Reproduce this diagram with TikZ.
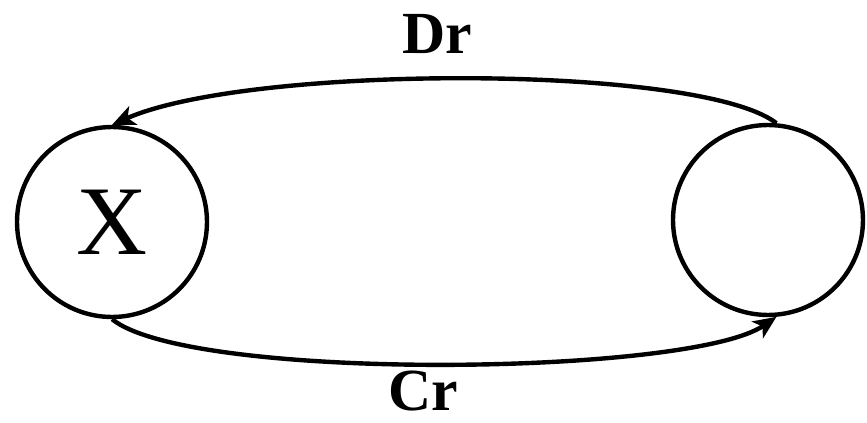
\documentclass[tikz,border=0pt]{standalone}
\usepackage{fontspec}
\setmainfont{Liberation Serif}
\usetikzlibrary{arrows.meta}
\tikzset{
  state/.style={circle, draw, line width=2.5pt, minimum size=3.8cm, inner sep=0pt},
  flow/.style={line width=2.5pt, -{Stealth[length=0.46cm, width=0.4cm, inset=0.12cm]}},
  rate/.style={font=\fontsize{34}{40}\selectfont\bfseries, inner sep=0pt, anchor=base}
}
\begin{document}
\begin{tikzpicture}[x=0.02cm, y=-0.02cm]
\useasboundingbox (0,0) rectangle (867,423);
\node[state, font=\fontsize{56}{60}\selectfont] (lnode) at (112,222) {X};
\node[state] (rnode) at (768,220) {};
\node[rate] (dr) at (437,53) {Dr};
\node[rate] (cr) at (423,410) {Cr};
\draw[flow] (rnode.85) .. controls (700,64) and (250,64) .. (lnode.north);
\draw[flow] (lnode.south) .. controls (190,382) and (690,376) .. (rnode.275);
\end{tikzpicture}
\end{document}
